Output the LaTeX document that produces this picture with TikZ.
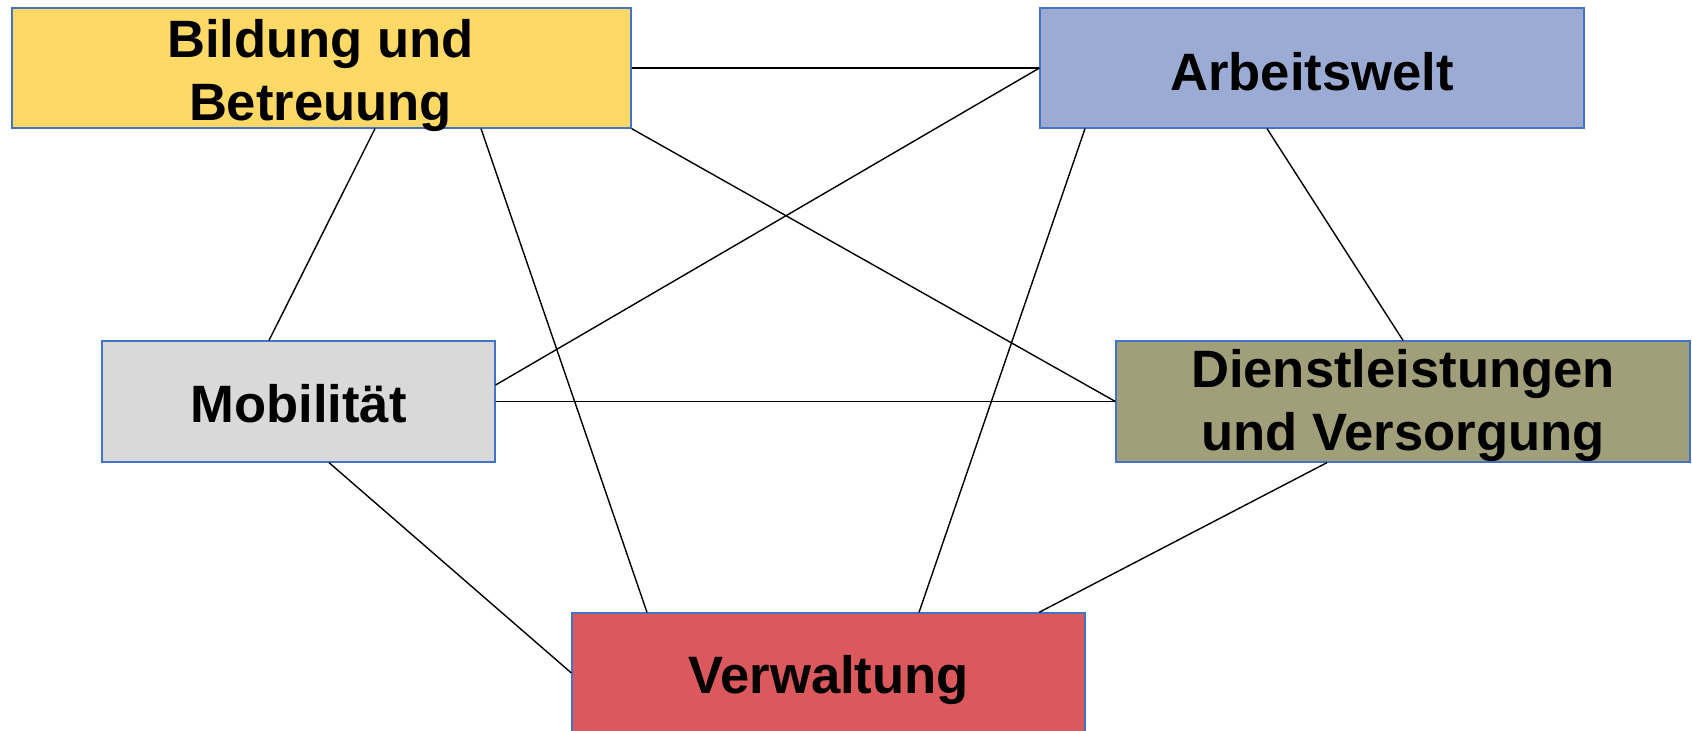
\documentclass[tikz,border=0pt]{standalone}
\usepackage{fontspec}
\setmainfont{Liberation Sans}
\usetikzlibrary{calc}
\definecolor{cBil}{HTML}{FFD966}
\definecolor{cArb}{HTML}{9CABD4}
\definecolor{cMob}{HTML}{D9D9D9}
\definecolor{cDie}{HTML}{A09F7A}
\definecolor{cVer}{HTML}{DB585C}
\definecolor{cBorder}{HTML}{4472C4}
\tikzset{
  box/.style={draw=cBorder, line width=0.6pt, rectangle, inner sep=0pt},
  lbl/.style={inner sep=0pt, align=center,
    font=\bfseries\fontsize{26.3}{31.5}\selectfont, text=black},
  link/.style={draw=black, line width=0.7pt}
}
\begin{document}
\begin{tikzpicture}[x=0.5pt,y=-0.5pt]
\useasboundingbox (0,0) rectangle (1692,730);
\fill[white] (0,0) rectangle (1692,730);
\clip (0,0) rectangle (1692,730);
% boxes
\node[box, fill=cBil, minimum width=309.5pt, minimum height=60pt] (bil) at (321.5,68) {};
\node[box, fill=cArb, minimum width=272pt, minimum height=60pt] (arb) at (1312,68) {};
\node[box, fill=cMob, minimum width=196.5pt, minimum height=60.5pt] (mob) at (298.5,401.5) {};
\node[box, fill=cDie, minimum width=287pt, minimum height=60.5pt] (die) at (1403,401.5) {};
\node[box, fill=cVer, minimum width=256.5pt, minimum height=60pt] (ver) at (828.5,673) {};
% labels
\node[lbl] (tbil) at ($(bil.center)+(-1,8)$) {Bildung und\\Betreuung};
\node[lbl] (tarb) at ($(arb.center)+(0,3.5)$) {Arbeitswelt};
\node[lbl] (tmob) at ($(mob.center)+(0,2)$) {Mobilität};
\node[lbl] (tdie) at ($(die.center)+(0,4)$) {Dienstleistungen\\und Versorgung};
\node[lbl] (tver) at ($(ver.center)+(0,7)$) {Verwaltung};
% links
\path[link] (bil.east) -- (arb.west);
\path[link] (arb.west) -- ($(mob.east)+(0,-16.5)$);
\path[link] ($(bil.south)+(53.5,0)$) -- ($(mob.north)+(-29.5,0)$);
\path[link] ($(bil.south)+(159.5,0)$) -- ($(ver.north)+(-181.5,0)$);
\path[link] (bil.south east) -- (die.west);
\path[link] ($(arb.south)+(-227,0)$) -- ($(ver.north)+(90.5,0)$);
\path[link] ($(arb.south)+(-45,0)$) -- (die.north);
\path[link] (mob.east) -- (die.west);
\path[link] ($(mob.south)+(30.5,0)$) -- (ver.west);
\path[link] ($(die.south)+(-76,0)$) -- ($(ver.north)+(210.5,0)$);
\end{tikzpicture}
\end{document}
